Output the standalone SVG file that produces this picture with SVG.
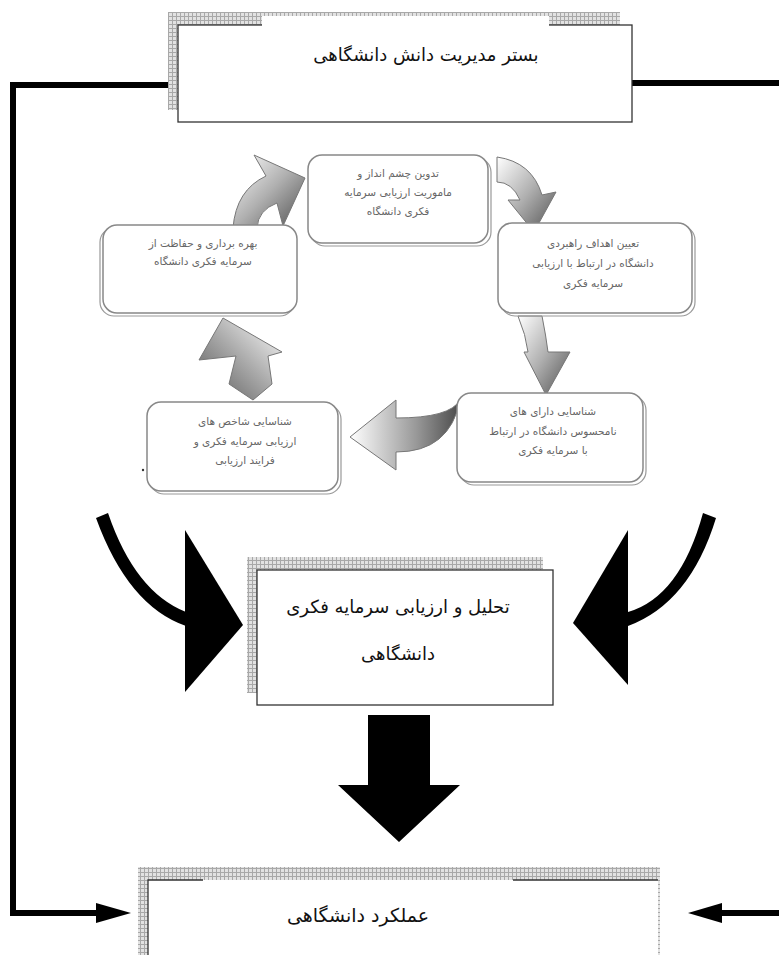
<svg xmlns="http://www.w3.org/2000/svg" width="779" height="955" viewBox="0 0 779 955">
<defs>
<pattern id="hatch" width="4" height="4" patternUnits="userSpaceOnUse">
<rect width="4" height="4" fill="#e2e2e2"/>
<path d="M0 0.5H4M0.5 0V4" stroke="#a8a8a8" stroke-width="1"/>
</pattern>
<linearGradient id="g1" x1="0" y1="0" x2="1" y2="1">
<stop offset="0" stop-color="#ffffff"/>
<stop offset="0.5" stop-color="#b0b0b0"/>
<stop offset="1" stop-color="#505050"/>
</linearGradient>
<linearGradient id="g2" x1="1" y1="0" x2="0" y2="1">
<stop offset="0" stop-color="#ffffff"/>
<stop offset="0.5" stop-color="#a8a8a8"/>
<stop offset="1" stop-color="#555555"/>
</linearGradient>
<linearGradient id="g3" x1="0" y1="0" x2="1" y2="0">
<stop offset="0" stop-color="#ffffff"/>
<stop offset="0.6" stop-color="#999999"/>
<stop offset="1" stop-color="#4a4a4a"/>
</linearGradient>
</defs>
<style>
.box{fill:#fff;stroke:#333;stroke-width:1.3}
.node{fill:#fff;stroke:#888;stroke-width:1.5}
.nshadow{fill:none;stroke:#999;stroke-width:1.2}
.ntext{font-family:"DejaVu Sans",sans-serif;font-size:10.5px;fill:#666;text-anchor:middle}
.btext{font-family:"DejaVu Sans",sans-serif;fill:#111;text-anchor:middle}
.garrow{stroke:#777;stroke-width:1}
.thick{fill:none;stroke:#000;stroke-width:6}
</style>
<rect width="779" height="955" fill="#fff"/>

<g id="connectors">
<polyline class="thick" points="178,85 13,85 13,913 100,913"/>
<polygon points="96,903 131,913 96,923" fill="#000"/>
<line class="thick" x1="632" y1="83" x2="779" y2="83"/>
<line x1="779" y1="913" x2="720" y2="913" stroke="#000" stroke-width="6"/>
<polygon points="722,903 688,913 722,923" fill="#000"/>
<path d="M108 513 Q135 592 186 612 L186 626 Q128 606 96 518 Z" fill="#000"/>
<polygon points="185,530 243,625 185,692" fill="#000"/>
<path d="M703 513 Q680 597 628 612 L628 626 Q690 603 716 518 Z" fill="#000"/>
<polygon points="628,530 573,623 628,685" fill="#000"/>
<polygon points="368,715 430,715 430,785 460,785 399,842 338,785 368,785" fill="#000"/>
<path class="garrow" fill="url(#g1)" d="M233 228 Q236 190 266 176 L254 155 L305 178 L283 226 L277 203 Q258 210 257 228 Z"/>
<path class="garrow" fill="url(#g1)" d="M497 157 Q532 162 542 195 L556 192 L534 232 L508 200 L520 200 Q512 182 497 182 Z"/>
<path class="garrow" fill="url(#g1)" d="M518 316 L542 316 Q546 336 548 352 L570 352 L546 395 L524 352 L528 352 Q526 335 518 316 Z"/>
<path class="garrow" fill="url(#g3)" d="M460 400 Q450 418 396 418 L396 400 L350 437 L396 470 L396 452 Q450 452 460 400 Z"/>
<path class="garrow" fill="url(#g2)" d="M253 400 L229 384 L236 356 L199 360 L223 318 L282 352 L268 356 L272 384 Z"/>
</g>

<g id="top-box">
<rect x="168" y="12" width="452" height="98" fill="url(#hatch)"/>
<rect class="box" x="178" y="25" width="454" height="97"/>
<rect x="262" y="16" width="287" height="10" fill="#fff"/>
<text class="btext" x="426" y="61" font-size="18" direction="rtl">بستر مدیریت دانش دانشگاهی</text>
</g>

<g id="node-vision">
<rect class="nshadow" x="311" y="158" width="180" height="88" rx="14"/>
<rect class="node" x="308" y="155" width="180" height="88" rx="14"/>
<text class="ntext" x="398" y="177" direction="rtl">تدوین چشم انداز و</text>
<text class="ntext" x="398" y="196" direction="rtl">ماموریت ارزیابی سرمایه</text>
<text class="ntext" x="398" y="215" direction="rtl">فکری دانشگاه</text>
</g>

<g id="node-exploit">
<rect class="nshadow" x="100" y="228" width="194" height="88" rx="14"/>
<rect class="node" x="103" y="225" width="194" height="88" rx="14"/>
<text class="ntext" x="203" y="247" direction="rtl">بهره برداری و حفاظت از</text>
<text class="ntext" x="203" y="265" direction="rtl">سرمایه فکری دانشگاه</text>
</g>

<g id="node-goals">
<rect class="nshadow" x="501" y="226" width="194" height="90" rx="14"/>
<rect class="node" x="498" y="223" width="194" height="90" rx="14"/>
<text class="ntext" x="593" y="247" direction="rtl">تعیین اهداف راهبردی</text>
<text class="ntext" x="593" y="267" direction="rtl">دانشگاه در ارتباط با ارزیابی</text>
<text class="ntext" x="593" y="287" direction="rtl">سرمایه فکری</text>
</g>

<g id="node-indicators">
<rect class="nshadow" x="150" y="405" width="191" height="89" rx="14"/>
<rect class="node" x="147" y="402" width="191" height="89" rx="14"/>
<text class="ntext" x="245" y="425" direction="rtl">شناسایی شاخص های</text>
<text class="ntext" x="245" y="445" direction="rtl">ارزیابی سرمایه فکری و</text>
<text class="ntext" x="245" y="464" direction="rtl">فرایند ارزیابی</text>
<circle cx="143" cy="470" r="1.2" fill="#333"/>
</g>

<g id="node-assets">
<rect class="nshadow" x="460" y="396" width="186" height="89" rx="14"/>
<rect class="node" x="457" y="393" width="186" height="89" rx="14"/>
<text class="ntext" x="553" y="415" direction="rtl">شناسایی دارای های</text>
<text class="ntext" x="553" y="435" direction="rtl">نامحسوس دانشگاه در ارتباط</text>
<text class="ntext" x="553" y="454" direction="rtl">با سرمایه فکری</text>
</g>

<g id="middle-box">
<rect x="247" y="557" width="296" height="136" fill="url(#hatch)"/>
<rect class="box" x="257" y="570" width="296" height="135"/>
<text class="btext" x="398" y="613" font-size="18" direction="rtl">تحلیل و ارزیابی سرمایه فکری</text>
<text class="btext" x="398" y="660" font-size="18" direction="rtl">دانشگاهی</text>
</g>

<g id="bottom-box">
<rect x="138" y="867" width="522" height="88" fill="url(#hatch)"/>
<rect x="148" y="880" width="510" height="80" fill="#fff"/>
<path d="M203 880 H148 V955 M513 880 H658" fill="none" stroke="#333" stroke-width="1.3"/>
<text class="btext" x="358" y="922" font-size="19" direction="rtl">عملکرد دانشگاهی</text>
</g>
</svg>
